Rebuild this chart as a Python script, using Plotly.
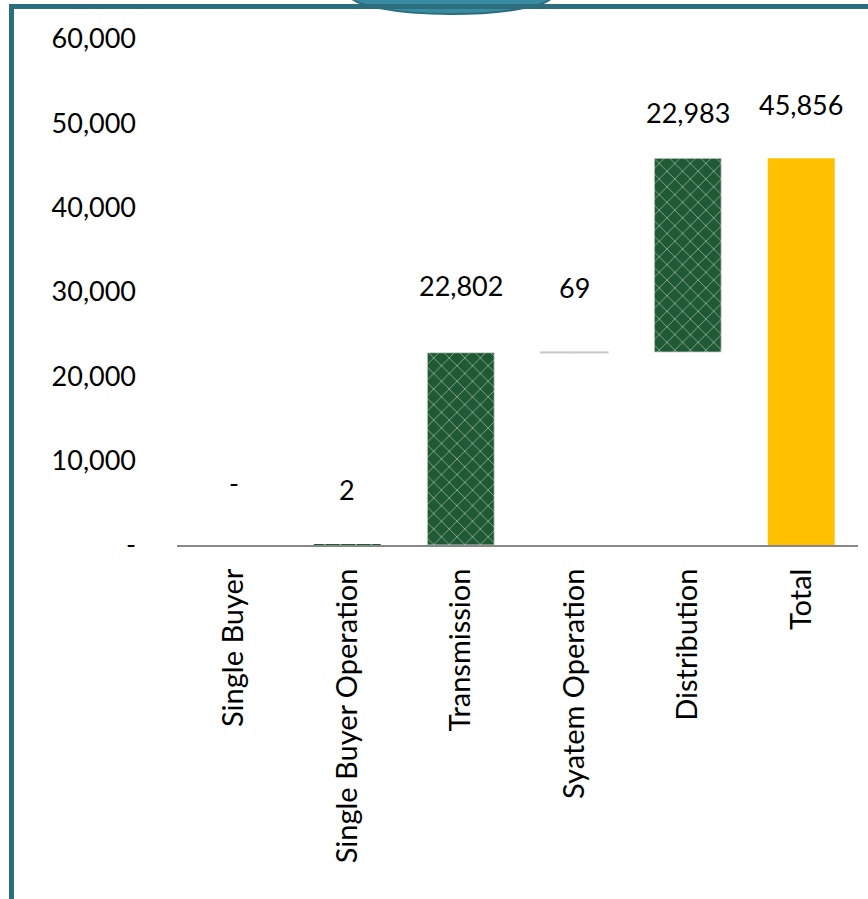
import numpy as np
import plotly.graph_objects as go

categories = ["Single Buyer", "Single Buyer Operation", "Transmission",
              "Syatem Operation", "Distribution", "Total"]
values = [0, 2, 22802, 69, 22983, 45856]
is_total = [False, False, False, False, False, True]
ytick_vals = [0, 10000, 20000, 30000, 40000, 50000, 60000]
ytick_text = ["-", "10,000", "20,000", "30,000", "40,000", "50,000", "60,000"]

# styles
label_shift = [63, 55, 67, 65, 46, 54]
edge_width = [0, 0, 1, 2, 1, 0]
GREEN = "#1F5A34"
YELLOW = "#FFC000"
BORDER = "#2C6E7E"
FONT = "Lato"
NUM_SIZE = 27
CAT_SIZE = 29

vals = np.array(values, dtype=float)
bases = []
run = 0.0
for v, t in zip(vals, is_total):
    if t:
        bases.append(0.0)
    else:
        bases.append(run)
        run += v
bases = np.array(bases)
tops = bases + vals

colors = [YELLOW if t else GREEN for t in is_total]
pattern_fg = ["rgba(0,0,0,0)" if t else "#2E6A42" for t in is_total]
pattern_shape = ["" if t else "x" for t in is_total]

fig = go.Figure()
fig.add_trace(go.Bar(
    x=categories, y=vals, base=bases, width=0.59,
    marker=dict(color=colors,
                line=dict(color="rgba(215,215,215,0.85)", width=edge_width),
                pattern=dict(shape=pattern_shape, fgcolor=pattern_fg,
                             size=11, solidity=0.15)),
    hoverinfo="skip", showlegend=False,
))

for c, v, top, s in zip(categories, values, tops, label_shift):
    txt = "-" if v == 0 else f"{v:,}"
    fig.add_annotation(x=c, y=top, text=txt, showarrow=False,
                       yanchor="middle", yshift=s,
                       font=dict(family=FONT, size=NUM_SIZE, color="#000000"))

W, H = 868, 899
L, R, T, B = 177, 10, 39, 354
pw = W - L - R
ph = H - T - B


def px(xp):
    return (xp - L) / pw


def py(yp):
    return (H - B - yp) / ph


shapes = [
    dict(type="circle", xref="paper", yref="paper",
         x0=px(349), x1=px(554), y0=py(14), y1=py(-26),
         fillcolor="#3A8CA2", line=dict(color="#2B6C7D", width=2)),
    dict(type="line", xref="paper", yref="paper",
         x0=px(11.5), x1=px(11.5), y0=py(6.5), y1=py(905),
         line=dict(color=BORDER, width=5)),
    dict(type="line", xref="paper", yref="paper",
         x0=px(9), x1=px(875), y0=py(6.5), y1=py(6.5),
         line=dict(color=BORDER, width=5)),
]

fig.update_layout(
    width=W, height=H,
    margin=dict(l=L, r=R, t=T, b=B, pad=0),
    paper_bgcolor="white", plot_bgcolor="white",
    font=dict(family=FONT, size=NUM_SIZE, color="#000000"),
    bargap=0.41,
    shapes=shapes,
    xaxis=dict(showgrid=False, showline=True, linecolor="#888888",
               linewidth=2, tickangle=-90, ticks="", ticklabelstandoff=10,
               zeroline=False, layer="above traces",
               tickfont=dict(family=FONT, size=CAT_SIZE)),
    yaxis=dict(range=[0, 60000], tickvals=ytick_vals, ticktext=ytick_text,
               showgrid=False, showline=False, zeroline=False, ticks="",
               ticklabelstandoff=40, tickfont=dict(family=FONT, size=NUM_SIZE)),
)

fig.write_html("out.html")
